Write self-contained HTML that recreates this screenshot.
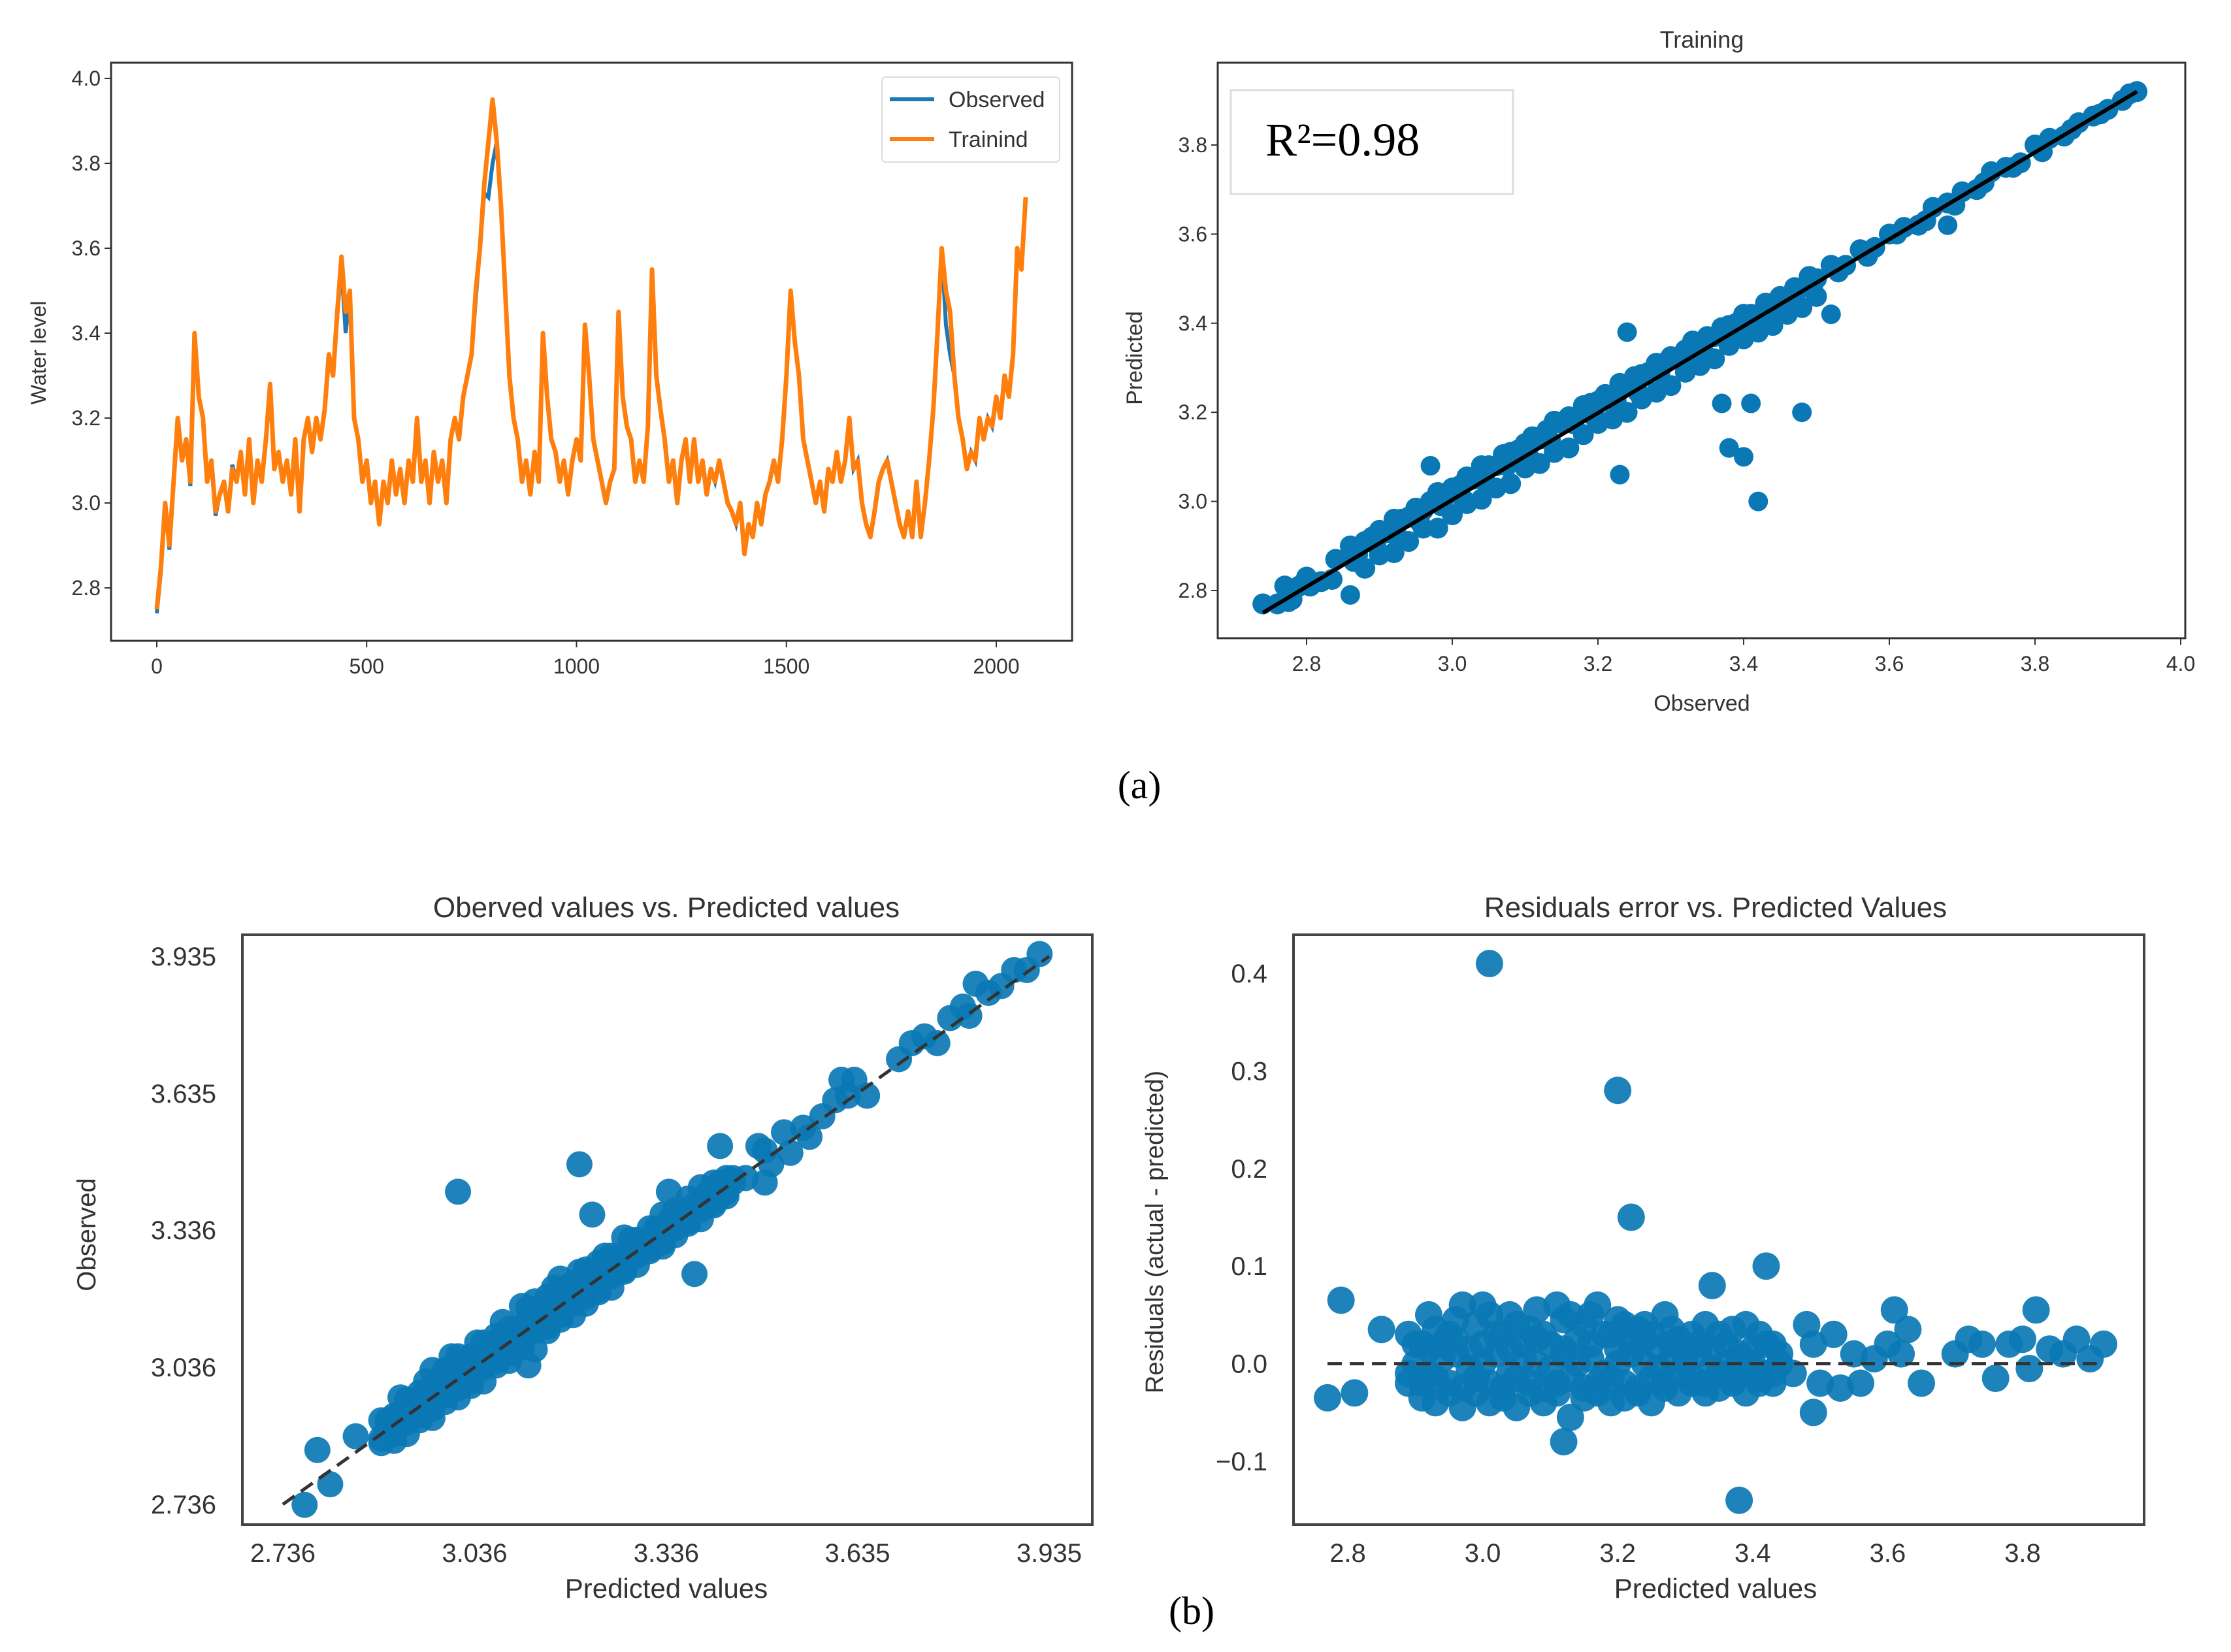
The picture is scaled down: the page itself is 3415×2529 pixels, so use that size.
<!DOCTYPE html>
<html><head><meta charset="utf-8"><style>
html,body{margin:0;padding:0;background:#fff}
svg{display:block}
text{font-family:"Liberation Sans",sans-serif;fill:#333}
</style></head><body>
<svg id="fig" width="3415" height="2529" viewBox="0 0 3415 2529" xmlns="http://www.w3.org/2000/svg">
<rect width="3415" height="2529" fill="#fff"/>
</svg>
<script>
// ---- Panel 1: time series (every 10th sample) ----
const tsValues=[2.75,2.85,3.0,2.9,3.05,3.2,3.1,3.15,3.05,3.4,3.25,3.2,3.05,3.1,2.98,3.02,3.05,2.98,3.08,3.05,3.12,3.02,3.15,3.0,3.1,3.05,3.15,3.28,3.08,3.12,3.05,3.1,3.02,3.15,2.98,3.15,3.2,3.12,3.2,3.15,3.22,3.35,3.3,3.45,3.58,3.45,3.5,3.2,3.15,3.05,3.1,3.0,3.05,2.95,3.05,3.0,3.1,3.02,3.08,3.0,3.1,3.05,3.2,3.05,3.1,3.0,3.12,3.05,3.1,3.0,3.15,3.2,3.15,3.25,3.3,3.35,3.5,3.6,3.75,3.85,3.95,3.85,3.7,3.5,3.3,3.2,3.15,3.05,3.1,3.02,3.12,3.05,3.4,3.25,3.15,3.12,3.05,3.1,3.02,3.1,3.15,3.1,3.42,3.3,3.15,3.1,3.05,3.0,3.05,3.08,3.45,3.25,3.18,3.15,3.05,3.1,3.05,3.18,3.55,3.3,3.22,3.15,3.05,3.1,3.0,3.1,3.15,3.05,3.15,3.05,3.1,3.02,3.08,3.05,3.1,3.05,3.0,2.98,2.95,3.0,2.88,2.95,2.92,3.0,2.95,3.02,3.05,3.1,3.05,3.15,3.3,3.5,3.38,3.3,3.15,3.1,3.05,3.0,3.05,2.98,3.08,3.05,3.12,3.05,3.1,3.2,3.08,3.1,3.0,2.95,2.92,2.98,3.05,3.08,3.1,3.05,3.0,2.95,2.92,2.98,2.92,3.05,2.92,3.0,3.1,3.22,3.4,3.6,3.5,3.45,3.3,3.2,3.15,3.08,3.12,3.1,3.2,3.15,3.2,3.18,3.25,3.2,3.3,3.25,3.35,3.6,3.55,3.72];
const tsObserved=[2.74,2.84,3.0,2.89,3.05,3.19,3.1,3.15,3.04,3.39,3.25,3.2,3.05,3.1,2.97,3.02,3.05,2.98,3.09,3.05,3.12,3.02,3.15,3.0,3.1,3.05,3.15,3.27,3.08,3.12,3.05,3.1,3.02,3.15,2.98,3.15,3.2,3.12,3.2,3.15,3.22,3.34,3.3,3.44,3.56,3.4,3.5,3.2,3.15,3.05,3.1,3.0,3.05,2.95,3.05,3.0,3.1,3.02,3.08,3.0,3.1,3.05,3.2,3.05,3.1,3.0,3.12,3.05,3.1,3.0,3.15,3.2,3.15,3.25,3.3,3.35,3.48,3.6,3.73,3.72,3.8,3.85,3.7,3.5,3.3,3.2,3.15,3.05,3.1,3.02,3.12,3.05,3.4,3.25,3.15,3.12,3.05,3.1,3.02,3.1,3.15,3.1,3.42,3.3,3.15,3.1,3.05,3.0,3.05,3.08,3.45,3.25,3.18,3.15,3.05,3.1,3.05,3.18,3.55,3.3,3.22,3.15,3.05,3.1,3.0,3.1,3.15,3.05,3.15,3.05,3.1,3.02,3.08,3.05,3.1,3.05,3.0,2.98,2.95,3.0,2.88,2.95,2.92,3.0,2.95,3.02,3.05,3.1,3.05,3.15,3.3,3.5,3.38,3.3,3.15,3.1,3.05,3.0,3.05,2.98,3.08,3.05,3.12,3.05,3.1,3.2,3.08,3.1,3.0,2.95,2.92,2.98,3.05,3.08,3.1,3.05,3.0,2.95,2.92,2.98,2.92,3.05,2.92,3.0,3.1,3.22,3.4,3.6,3.42,3.35,3.3,3.2,3.15,3.08,3.12,3.1,3.2,3.15,3.2,3.18,3.25,3.2,3.3,3.25,3.35,3.6,3.55,3.72];
const tsStep=10;
const tsXTicks=[0,500,1000,1500,2000];
const tsYTicks=["2.8","3.0","3.2","3.4","3.6","3.8","4.0"];

// ---- Panel 2: training scatter ----
const trainObs=[2.74,2.76,2.77,2.78,2.79,2.80,2.82,2.84,2.86,2.87,2.88,2.89,2.90,2.91,2.92,2.93,2.94,2.95,2.96,2.97,2.98,2.99,3.00,3.01,3.02,3.03,3.04,3.05,3.06,3.07,3.08,3.09,3.10,3.11,3.12,3.13,3.14,3.15,3.16,3.17,3.18,3.19,3.20,3.21,3.22,3.23,3.24,3.25,3.26,3.27,3.28,3.29,3.30,3.31,3.32,3.33,3.34,3.35,3.36,3.37,3.38,3.39,3.40,3.41,3.42,3.43,3.44,3.45,3.46,3.47,3.48,3.49,3.50,3.52,3.54,3.56,3.58,3.60,3.62,3.64,3.66,3.68,3.70,3.72,3.74,3.76,3.78,3.80,3.82,3.84,3.86,3.88,3.90,3.92,3.94,
2.88,2.90,2.92,2.94,2.96,2.98,3.00,3.02,3.04,3.06,3.08,3.10,3.12,3.14,3.16,3.18,3.20,3.22,3.24,3.26,3.28,3.30,3.32,3.34,3.36,3.38,3.40,3.42,3.44,3.46,3.48,3.50,
2.775,2.805,2.835,2.865,2.895,2.925,2.955,2.985,3.015,3.045,3.075,3.105,3.135,3.165,3.195,3.225,3.255,3.285,3.315,3.345,3.375,3.405,3.435,3.465,3.495,3.53,3.57,3.61,3.65,3.69,3.73,3.77,3.81,3.85,3.89,3.93];
const trainRes=[0.03,0.01,0.04,0.0,0.02,0.03,0.0,0.03,0.04,0.01,0.03,0.03,0.035,0.02,0.04,0.03,0.025,0.035,0.02,0.03,0.04,0.02,0.03,0.025,0.035,0.02,0.04,0.03,0.02,0.035,0.03,0.025,0.03,0.035,0.02,0.03,0.04,0.025,0.03,0.02,0.035,0.03,0.025,0.03,0.02,0.035,0.02,0.03,0.025,0.02,0.03,0.02,0.025,0.015,0.02,0.03,0.015,0.02,0.01,0.02,0.015,0.01,0.02,0.01,0.0,0.015,0.005,0.01,0.0,0.01,0.0,0.015,0.0,0.01,-0.01,0.005,-0.01,0.0,-0.005,-0.02,0.0,-0.01,-0.005,-0.02,0.0,-0.01,-0.02,0.0,-0.005,-0.02,-0.01,-0.015,-0.02,-0.02,-0.02,
-0.03,-0.02,-0.035,-0.03,-0.02,-0.04,-0.03,-0.025,-0.035,-0.03,-0.04,-0.025,-0.035,-0.03,-0.04,-0.03,-0.025,-0.035,-0.04,-0.03,-0.035,-0.04,-0.03,-0.035,-0.04,-0.03,-0.035,-0.04,-0.045,-0.04,-0.045,-0.04,
0.0,0.005,-0.01,0.0,0.01,-0.005,0.0,0.005,-0.01,0.0,0.005,-0.005,0.0,0.01,-0.005,0.0,-0.01,0.005,0.0,-0.01,-0.005,-0.01,-0.015,-0.01,-0.02,-0.015,-0.02,-0.01,-0.02,-0.025,-0.015,-0.02,-0.025,-0.015,-0.02,-0.015];
const trainOutObs=[3.24,2.97,3.23,3.37,3.41,3.48,3.38,3.40,3.42,2.86,3.52,3.68];
const trainOutPred=[3.38,3.08,3.06,3.22,3.22,3.20,3.12,3.10,3.00,2.79,3.42,3.62];
const trainLine=[[2.74,2.75],[3.94,3.92]];
const trainXTicks=["2.8","3.0","3.2","3.4","3.6","3.8","4.0"];
const trainYTicks=["2.8","3.0","3.2","3.4","3.6","3.8"];

// ---- Panels 3 & 4: test predicted / residuals ----
const testPred=[2.89,2.91,2.93,2.95,2.97,2.99,3.01,3.03,3.05,3.07,3.09,3.11,3.13,3.15,3.17,3.19,3.21,3.23,3.25,3.27,3.29,3.31,3.33,3.35,3.37,3.39,3.41,3.43,
2.90,2.92,2.94,2.96,2.98,3.00,3.02,3.04,3.06,3.08,3.10,3.12,3.14,3.16,3.18,3.20,3.22,3.24,3.26,3.28,3.30,3.32,3.34,3.36,3.38,3.40,3.42,3.44,
2.89,2.91,2.93,2.95,2.97,2.99,3.01,3.03,3.05,3.07,3.09,3.11,3.13,3.15,3.17,3.19,3.21,3.23,3.25,3.27,3.29,3.31,3.33,3.35,3.37,3.39,3.41,3.43,
2.90,2.92,2.94,2.96,2.98,3.00,3.02,3.04,3.06,3.08,3.10,3.12,3.14,3.16,3.18,3.20,3.22,3.24,3.26,3.28,3.30,3.32,3.34,3.36,3.38,3.40,3.42,3.44,
2.89,2.91,2.93,2.95,2.97,2.99,3.01,3.03,3.05,3.07,3.09,3.11,3.13,3.15,3.17,3.19,3.21,3.23,3.25,3.27,3.29,3.31,3.33,3.35,3.37,3.39,3.41,3.43,
2.92,2.96,3.00,3.04,3.08,3.12,3.16,3.20,3.24,3.28,
3.46,3.48,3.49,3.50,3.52,3.53,3.55,3.56,3.58,3.60,3.61,3.62,3.63,3.65,3.70,3.72,3.74,3.76,3.78,3.80,3.81,3.82,3.84,3.86,3.88,3.90,3.92,
3.01,3.20,3.22,3.42,2.79,3.12,3.38,3.34,3.49,2.77,2.81,2.85];
const testRes=[0.03,0.02,0.035,0.03,0.06,0.04,0.05,0.03,0.04,0.035,0.03,0.06,0.05,0.04,0.06,0.03,0.04,0.035,0.03,0.05,0.025,0.03,0.04,0.03,0.035,0.04,0.03,0.02,
0.0,-0.01,0.005,0.01,-0.005,0.0,0.01,-0.01,0.005,0.0,-0.005,0.01,0.0,0.005,-0.01,0.0,0.01,0.0,-0.005,0.005,0.0,0.01,-0.005,0.0,0.005,0.0,-0.01,0.0,
-0.02,-0.035,-0.04,-0.03,-0.045,-0.03,-0.04,-0.035,-0.045,-0.03,-0.04,-0.03,-0.055,-0.035,-0.03,-0.04,-0.035,-0.03,-0.04,-0.025,-0.03,-0.02,-0.03,-0.025,-0.02,-0.03,-0.015,-0.02,
0.02,0.015,0.02,0.025,0.015,0.02,0.03,0.015,0.02,0.025,0.02,0.015,0.025,0.02,0.03,0.015,0.02,0.025,0.015,0.02,0.01,0.02,0.015,0.02,0.01,0.015,0.02,0.01,
-0.01,-0.02,-0.015,-0.02,-0.025,-0.015,-0.02,-0.025,-0.015,-0.02,-0.025,-0.02,-0.015,-0.025,-0.02,-0.015,-0.02,-0.025,-0.015,-0.02,-0.01,-0.015,-0.02,-0.01,-0.015,-0.01,-0.02,-0.01,
0.05,0.045,0.06,0.05,0.055,0.045,0.05,0.045,0.04,0.035,
-0.01,0.04,0.02,-0.02,0.03,-0.025,0.01,-0.02,0.005,0.02,0.055,0.01,0.035,-0.02,0.01,0.025,0.02,-0.015,0.02,0.025,-0.005,0.055,0.015,0.01,0.025,0.005,0.02,
0.41,0.28,0.15,0.10,0.065,-0.08,-0.14,0.08,-0.05,-0.035,-0.03,0.035];
const testTicks=["2.736","3.036","3.336","3.635","3.935"];
const resXTicks=["2.8","3.0","3.2","3.4","3.6","3.8"];
const resYTicks=["-0.1","0.0","0.1","0.2","0.3","0.4"];
const resLineX=[2.77,3.91];

const NS="http://www.w3.org/2000/svg";
const svg=document.getElementById('fig');
function mk(tag,attrs,parent){const e=document.createElementNS(NS,tag);for(const k in attrs)e.setAttribute(k,attrs[k]);(parent||svg).appendChild(e);return e;}
function txt(s,attrs,parent){const e=mk('text',attrs,parent);e.textContent=s;return e;}
function lin(d0,d1,r0,r1){return v=>r0+(v-d0)/(d1-d0)*(r1-r0);}

// ===== Panel 1 =====
(function(){
 const g=mk('g',{});
 
 
 const L=170,R=1641,T=96,B=981;
 const x=lin(0,2000,240,1525), y=lin(2.8,4.0,900,120);
 const pts=a=>a.map((v,i)=>x(i*tsStep).toFixed(1)+','+y(v).toFixed(1)).join(' ');
 const lo=mk('polyline',{points:pts(tsObserved),fill:'none',stroke:'#1f77b4','stroke-width':6},g);
 
 
 const lt=mk('polyline',{points:pts(tsValues),fill:'none',stroke:'#ff7f0e','stroke-width':7,'stroke-linejoin':'round'},g);
 
 
 const fr=mk('rect',{x:L,y:T,width:R-L,height:B-T,fill:'none',stroke:'#333','stroke-width':3},g);
 
 
 tsXTicks.forEach(t=>{mk('line',{x1:x(t),x2:x(t),y1:B,y2:B+10,stroke:'#333','stroke-width':2},g);
  const e=txt(String(t),{x:x(t),y:B+50,'font-size':32,'text-anchor':'middle'},g);
  
  });
 tsYTicks.forEach(t=>{const v=+t;mk('line',{x1:L-10,x2:L,y1:y(v),y2:y(v),stroke:'#333','stroke-width':2},g);
  const e=txt(t,{x:L-16,y:y(v)+11,'font-size':32,'text-anchor':'end'},g);
  
  });
 const yl=txt('Water level',{x:0,y:0,'font-size':32,'text-anchor':'middle',transform:'translate(70,540) rotate(-90)'},g);
 
 
 const lg=mk('g',{},g);
 
 
 mk('rect',{x:1350,y:118,width:272,height:130,rx:6,fill:'#fff',stroke:'#ddd','stroke-width':2},lg);
 mk('line',{x1:1362,x2:1430,y1:152,y2:152,stroke:'#1f77b4','stroke-width':6},lg);
 mk('line',{x1:1362,x2:1430,y1:213,y2:213,stroke:'#ff7f0e','stroke-width':6},lg);
 const l1=txt('Observed',{x:1452,y:164,'font-size':34},lg);
 
 
 const l2=txt('Trainind',{x:1452,y:225,'font-size':34},lg);
 
 
})();

// ===== Panel 2 =====
(function(){
 const g=mk('g',{});
 
 
 const L=1864,R=3345,T=96,B=977;
 const x=lin(2.8,4.0,2000,3338), y=lin(2.8,3.8,904,222);
 const pg=mk('g',{fill:'#0a78b4'},g);
 
 
 trainObs.forEach((o,i)=>{const c=mk('circle',{cx:x(o),cy:y(o+trainRes[i]),r:16},pg);
  
  });
 trainOutObs.forEach((o,i)=>{const c=mk('circle',{cx:x(o),cy:y(trainOutPred[i]),r:15},pg);
  
  });
 const ln=mk('line',{x1:x(trainLine[0][0]),y1:y(trainLine[0][1]),x2:x(trainLine[1][0]),y2:y(trainLine[1][1]),stroke:'#000','stroke-width':6},g);
 
 
 mk('rect',{x:L,y:T,width:R-L,height:B-T,fill:'none',stroke:'#333','stroke-width':3},g);
 trainXTicks.forEach(t=>{const v=+t;mk('line',{x1:x(v),x2:x(v),y1:B,y2:B+10,stroke:'#333','stroke-width':2},g);
  const e=txt(t,{x:x(v),y:B+50,'font-size':32,'text-anchor':'middle'},g);
  
  });
 trainYTicks.forEach(t=>{const v=+t;mk('line',{x1:L-10,x2:L,y1:y(v),y2:y(v),stroke:'#333','stroke-width':2},g);
  const e=txt(t,{x:L-16,y:y(v)+11,'font-size':32,'text-anchor':'end'},g);
  
  });
 const ti=txt('Training',{x:2605,y:73,'font-size':36,'text-anchor':'middle'},g);
 
 
 const xl=txt('Observed',{x:2605,y:1088,'font-size':34,'text-anchor':'middle'},g);
 
 
 const yl=txt('Predicted',{x:0,y:0,'font-size':34,'text-anchor':'middle',transform:'translate(1748,548) rotate(-90)'},g);
 
 
 const bx=mk('rect',{x:1884,y:138,width:432,height:159,fill:'#fff',stroke:'#ddd','stroke-width':3},g);
 
 
 const r2=txt('R²=0.98',{x:1937,y:238,'font-size':72,style:'font-family:"Liberation Serif",serif;fill:#000'},g);
 
 
})();

const a=txt('(a)',{x:1744,y:1222,'font-size':60,'text-anchor':'middle',style:'font-family:"Liberation Serif",serif;fill:#000'});



// ===== Panel 3 =====
(function(){
 const g=mk('g',{});
 
 
 const L=371,R=1672,T=1431,B=2334;
 const x=lin(2.736,3.935,433,1606), y=lin(2.736,3.935,2303,1464);
 const pg=mk('g',{fill:'#0a78b4','fill-opacity':0.92},g);
 
 
 testPred.forEach((p,i)=>{const c=mk('circle',{cx:x(p),cy:y(p+testRes[i]),r:20},pg);
  
  });
 const ln=mk('line',{x1:x(2.736),y1:y(2.736),x2:x(3.935),y2:y(3.935),stroke:'#333','stroke-width':5,'stroke-dasharray':'22,12'},g);
 
 
 mk('rect',{x:L,y:T,width:R-L,height:B-T,fill:'none',stroke:'#444','stroke-width':4},g);
 testTicks.forEach(t=>{const v=+t;
  const e=txt(t,{x:x(v),y:B+57,'font-size':40,'text-anchor':'middle'},g);
  
  
  const f=txt(t,{x:L-40,y:y(v)+14,'font-size':40,'text-anchor':'end'},g);
  
  });
 const ti=txt('Oberved values vs. Predicted values',{x:1020,y:1404,'font-size':44,'text-anchor':'middle'},g);
 
 
 const xl=txt('Predicted values',{x:1020,y:2446,'font-size':42,'text-anchor':'middle'},g);
 
 
 const yl=txt('Observed',{x:0,y:0,'font-size':40,'text-anchor':'middle',transform:'translate(146,1890) rotate(-90)'},g);
 
 
})();

// ===== Panel 4 =====
(function(){
 const g=mk('g',{});
 
 
 const L=1980,R=3282,T=1431,B=2334;
 const x=lin(2.8,3.8,2063,3096), y=lin(-0.1,0.4,2237,1490);
 const pg=mk('g',{fill:'#0a78b4','fill-opacity':0.92},g);
 
 
 testPred.forEach((p,i)=>{const c=mk('circle',{cx:x(p),cy:y(testRes[i]),r:21},pg);
  
  });
 const ln=mk('line',{x1:x(resLineX[0]),y1:y(0),x2:x(resLineX[1]),y2:y(0),stroke:'#333','stroke-width':5,'stroke-dasharray':'22,12'},g);
 
 
 mk('rect',{x:L,y:T,width:R-L,height:B-T,fill:'none',stroke:'#444','stroke-width':4},g);
 resXTicks.forEach(t=>{const v=+t;
  const e=txt(t,{x:x(v),y:B+57,'font-size':40,'text-anchor':'middle'},g);
  
  });
 resYTicks.forEach(t=>{const v=+t;
  const e=txt(t.replace('-','\u2212'),{x:L-40,y:y(v)+14,'font-size':40,'text-anchor':'end'},g);
  
  });
 const ti=txt('Residuals error vs. Predicted Values',{x:2626,y:1404,'font-size':44,'text-anchor':'middle'},g);
 
 
 const xl=txt('Predicted values',{x:2626,y:2446,'font-size':42,'text-anchor':'middle'},g);
 
 
 const yl=txt('Residuals (actual - predicted)',{x:0,y:0,'font-size':38,'text-anchor':'middle',transform:'translate(1780,1886) rotate(-90)'},g);
 
 
})();

const b=txt('(b)',{x:1824,y:2486,'font-size':60,'text-anchor':'middle',style:'font-family:"Liberation Serif",serif;fill:#000'});


</script>
</body></html>
